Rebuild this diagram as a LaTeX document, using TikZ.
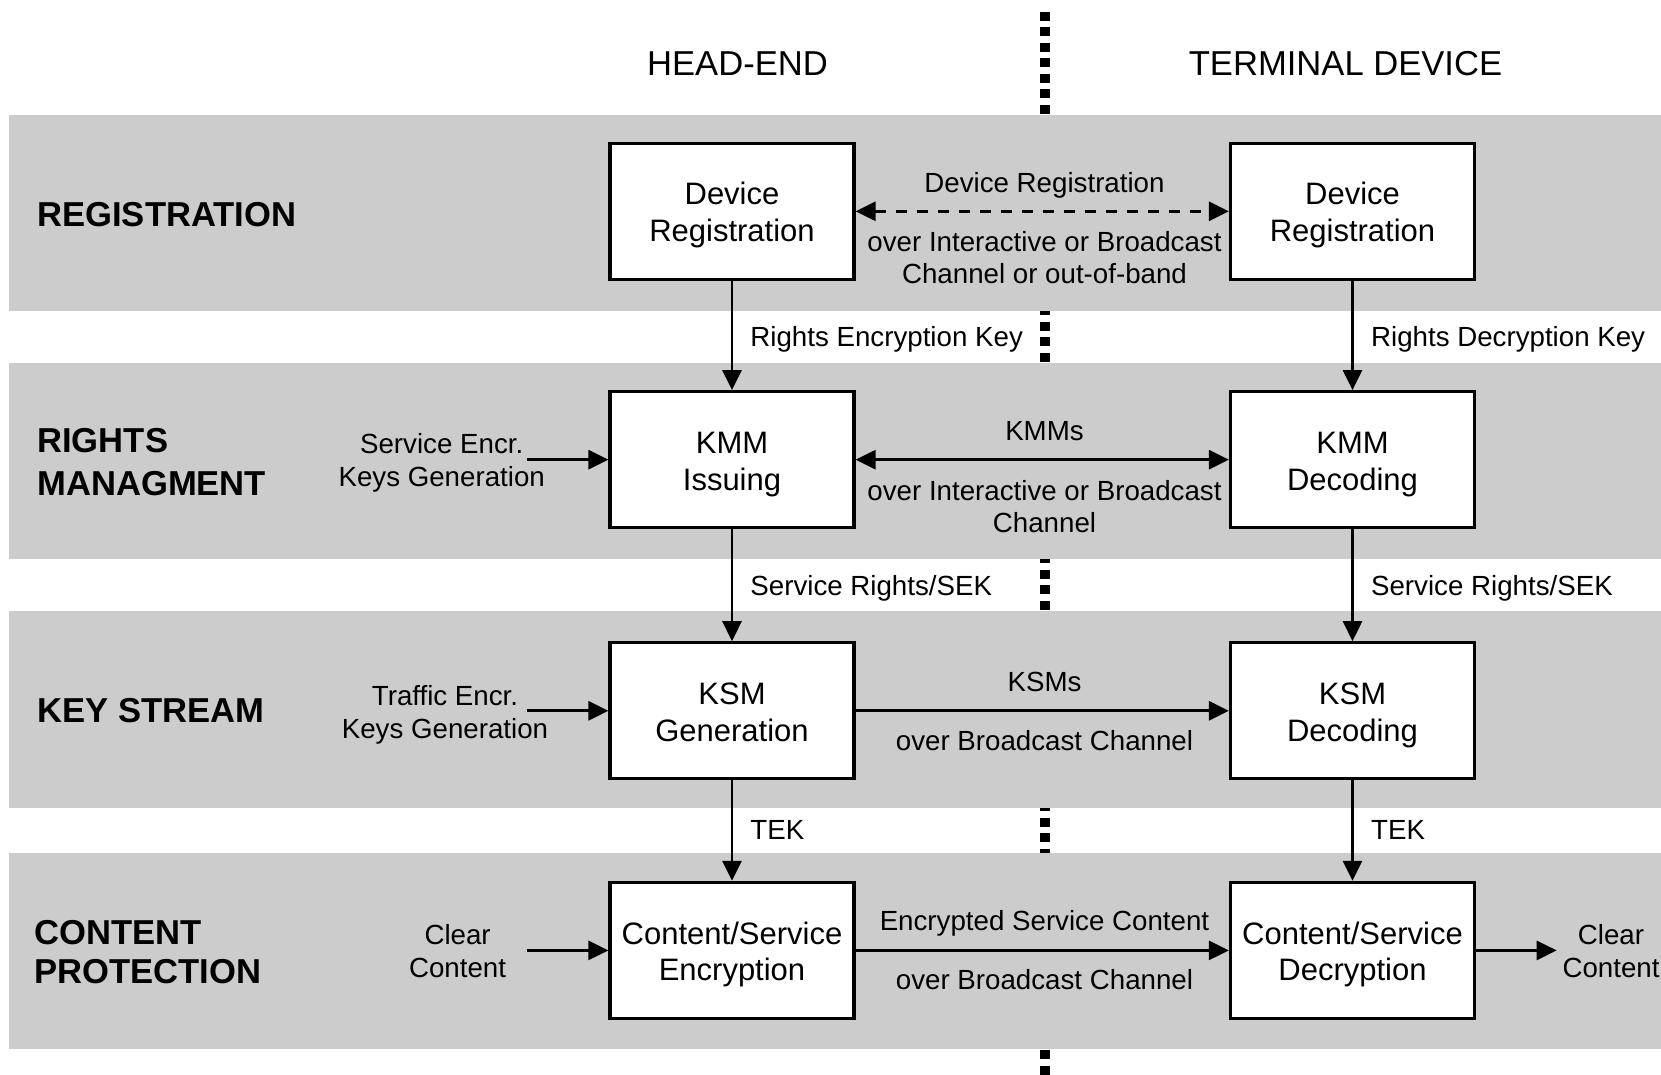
\documentclass[tikz,border=0pt]{standalone}
\usepackage{fontspec}
\setmainfont{Liberation Sans}
\usetikzlibrary{arrows.meta}
\definecolor{bandgray}{RGB}{204,204,204}
\newcommand{\boxtopstrut}{\rule{0pt}{15.3pt}}
\newcommand{\boxbotstrut}{\rule[-3.35pt]{0pt}{3.35pt}}
\newcommand{\lblstrut}{\rule{0pt}{12pt}}
\newcommand{\bldstrut}{\rule{0pt}{14pt}}
\begin{document}
\begin{tikzpicture}[x=0.5pt,y=-0.5pt,
  lbl/.style={inner sep=0pt, align=center, font=\fontsize{13.85}{16.25}\selectfont},
  blbl/.style={inner sep=0pt, align=left, font=\fontsize{17.3}{20.5}\selectfont\bfseries},
  hdr/.style={inner sep=0pt, font=\fontsize{17.3}{20}\selectfont},
  bx/.style={draw, line width=1.6pt, fill=white, minimum width=122pt, minimum height=68pt,
    inner sep=0pt, align=center, font=\fontsize{15.5}{18.35}\selectfont},
  tip/.tip={Triangle[length=10pt,width=9.5pt]},
  arr/.style={line width=1.35pt, -tip},
  biarr/.style={line width=1.35pt, tip-tip},
  dbiarr/.style={line width=1.35pt, tip-tip, dash pattern=on 5.5pt off 5pt},
  bandfill/.style={fill=bandgray, draw=none},
  divider/.style={line width=5pt, dash pattern=on 4.5pt off 3.25pt}
]
\useasboundingbox (0,0) rectangle (1661,1075);

% divider between head-end and terminal
\draw[divider] (1044.5,11.7) -- (1044.5,1075);

% bands
\path[bandfill] (8.5,115.5) rectangle (1661,311.5);
\path[bandfill] (8.5,363) rectangle (1661,559);
\path[bandfill] (8.5,611) rectangle (1661,808);
\path[bandfill] (8.5,853) rectangle (1661,1049);

% headers
\node[hdr, anchor=base] (he) at (737.5,76) {HEAD-END};
\node[hdr, anchor=base] (td) at (1345.5,76) {TERMINAL DEVICE};

% band labels
\node[blbl, anchor=base west] (reg) at (37,226.4) {REGISTRATION};
\node[blbl, anchor=north west, font=\fontsize{17.3}{21.75}\selectfont\bfseries] (rm) at (37,424) {\bldstrut RIGHTS\\MANAGMENT};
\node[blbl, anchor=base west] (kst) at (37,722.4) {KEY STREAM};
\node[blbl, anchor=north west, font=\fontsize{17.3}{19.6}\selectfont\bfseries] (cp) at (34,915.6) {\bldstrut CONTENT\\PROTECTION};

% boxes
\node[bx] (dr1) at (732,211.3) {\boxtopstrut Device\\Registration\boxbotstrut};
\node[bx] (dr2) at (1352.5,211.3) {\boxtopstrut Device\\Registration\boxbotstrut};
\node[bx] (km1) at (732,459.7) {\boxtopstrut KMM\\Issuing\boxbotstrut};
\node[bx] (km2) at (1352.5,459.7) {\boxtopstrut KMM\\Decoding\boxbotstrut};
\node[bx] (ks1) at (732,710.8) {\boxtopstrut KSM\\Generation\boxbotstrut};
\node[bx] (ks2) at (1352.5,710.8) {\boxtopstrut KSM\\Decoding\boxbotstrut};
\node[bx] (cs1) at (732,950.4) {\boxtopstrut Content/Service\\Encryption\boxbotstrut};
\node[bx] (cs2) at (1352.5,950.4) {\boxtopstrut Content/Service\\Decryption\boxbotstrut};

% vertical arrows
\draw[arr] (dr1) -- (km1);
\draw[arr] (km1) -- (ks1);
\draw[arr] (ks1) -- (cs1);
\draw[arr] (dr2) -- (km2);
\draw[arr] (km2) -- (ks2);
\draw[arr] (ks2) -- (cs2);

\node[lbl, anchor=base west] (rek) at (750,347) {Rights Encryption Key};
\node[lbl, anchor=base west] (rdk) at (1370.7,347) {Rights Decryption Key};
\node[lbl, anchor=base west] (srl) at (750,595) {Service Rights/SEK};
\node[lbl, anchor=base west] (srr) at (1370.7,595) {Service Rights/SEK};
\node[lbl, anchor=base west] (tkl) at (750,839.5) {TEK};
\node[lbl, anchor=base west] (tkr) at (1370.7,839.5) {TEK};

% horizontal links
\draw[dbiarr] (dr1) -- (dr2);
\draw[biarr] (km1) -- (km2);
\draw[arr] (ks1) -- (ks2);
\draw[arr] (cs1) -- (cs2);

\node[lbl, anchor=base] (drl) at (1044.5,192.6) {Device Registration};
\node[lbl, anchor=north] (drc) at (1044.5,226.8) {\lblstrut over Interactive or Broadcast\\Channel or out-of-band};
\node[lbl, anchor=base] (kml) at (1044.5,440.3) {KMMs};
\node[lbl, anchor=north] (kmc) at (1044.5,475.8) {\lblstrut over Interactive or Broadcast\\Channel};
\node[lbl, anchor=base] (ksl) at (1044.5,691.5) {KSMs};
\node[lbl, anchor=base] (ksc) at (1044.5,750.8) {over Broadcast Channel};
\node[lbl, anchor=base] (csl) at (1044.5,930.9) {Encrypted Service Content};
\node[lbl, anchor=base] (csc) at (1044.5,989.2) {over Broadcast Channel};

% inputs and output
\node[lbl, anchor=north] (sek) at (441.7,429.2) {\lblstrut Service Encr.\\Keys Generation};
\node[lbl, anchor=north] (tek) at (445,681.3) {\lblstrut Traffic Encr.\\Keys Generation};
\node[lbl, anchor=north] (clin) at (457.6,920.5) {\lblstrut Clear\\Content};
\node[lbl, anchor=north] (clout) at (1611,920.5) {\lblstrut Clear\\Content};

\coordinate (sa) at (526.5,459.7);
\coordinate (ta) at (526.5,710.8);
\coordinate (ca) at (526.5,950.4);
\coordinate (co) at (1556.7,950.4);
\draw[arr] (sa) -- (km1);
\draw[arr] (ta) -- (ks1);
\draw[arr] (ca) -- (cs1);
\draw[arr] (cs2) -- (co);
\end{tikzpicture}
\end{document}
